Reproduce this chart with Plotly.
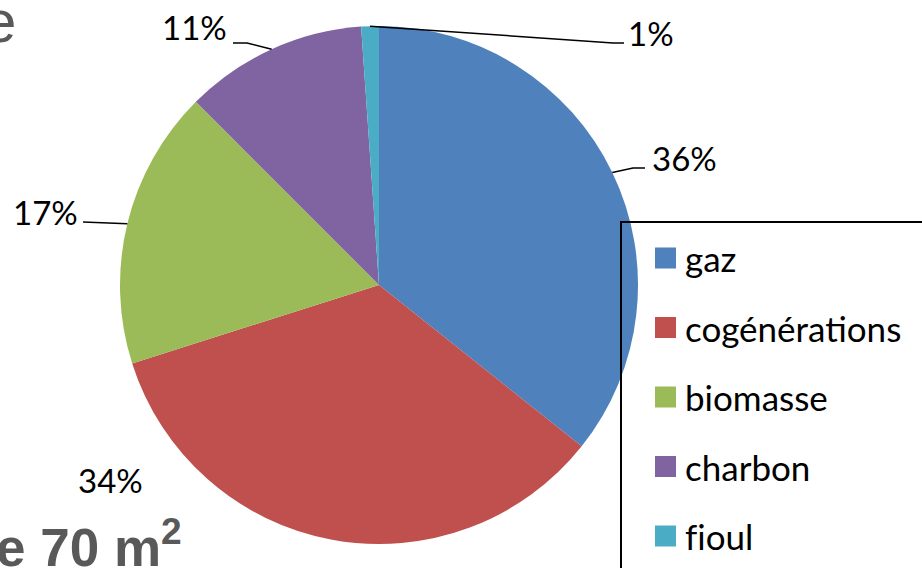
import math
import plotly.graph_objects as go

# ---- data ----
categories = ["gaz", "cogénérations", "biomasse", "charbon", "fioul"]
shares = [35.7, 34.4, 17.4, 11.4, 1.1]
pct_labels = ["36%", "34%", "17%", "11%", "1%"]
colors = ["#4F81BD", "#C0504D", "#9BBB59", "#8064A2", "#4BACC6"]

# ---- layout constants (pixels) ----
W, H = 922, 568
CX, CY, R = 379, 285, 259
LABEL_FONT = "Lato"
PCT_SIZE = 33
LEG_SIZE = 35

# text anchor (x, y, xanchor) and leader line points after the pie edge
label_place = [
    (650, 158, "left", [(633, 168), (645, 168)]),
    (145, 480, "right", None),
    (80, 212, "right", [(83, 222)]),
    (229, 27, "right", [(247, 43), (233, 43)]),
    (626, 33, "left", [(613, 43), (624, 43)]),
]


def px(x):
    return x / W


def py(y):
    return 1 - y / H


fig = go.Figure(
    go.Pie(
        labels=categories,
        values=shares,
        marker=dict(colors=colors, line=dict(width=0)),
        sort=False,
        direction="clockwise",
        rotation=0,
        textinfo="none",
        hoverinfo="label+percent",
        showlegend=False,
        domain=dict(x=[px(CX - R), px(CX + R)], y=[py(CY + R), py(CY - R)]),
    )
)

annotations = []
shapes = []
total = sum(shares)
cum = 0.0
for i, v in enumerate(shares):
    mid = (cum + v / 2) / total * 2 * math.pi
    cum += v
    x_txt, y_txt, xa, pts = label_place[i]
    annotations.append(dict(
        x=px(x_txt), y=py(y_txt), xref="paper", yref="paper",
        text=pct_labels[i], showarrow=False, xanchor=xa, yanchor="middle",
        font=dict(family=LABEL_FONT, size=PCT_SIZE, color="#000000"),
    ))
    if pts:
        ex = CX + R * math.sin(mid)
        ey = CY - R * math.cos(mid)
        path = "M {} {}".format(px(ex), py(ey))
        for (qx, qy) in pts:
            path += " L {} {}".format(px(qx), py(qy))
        shapes.append(dict(type="path", path=path, xref="paper", yref="paper",
                           line=dict(color="#000000", width=1.5)))

# manual legend
LEG_X0, LEG_Y0 = 621, 222
shapes.append(dict(type="rect", xref="paper", yref="paper",
                   x0=px(LEG_X0), y0=py(LEG_Y0), x1=px(W + 10), y1=py(H + 10),
                   line=dict(color="#000000", width=2), fillcolor="rgba(0,0,0,0)"))
for i, (cat, col) in enumerate(zip(categories, colors)):
    yc = 258 + 69.5 * i
    shapes.append(dict(type="rect", xref="paper", yref="paper",
                       x0=px(655), x1=px(676), y0=py(yc - 10.5), y1=py(yc + 10.5),
                       line=dict(width=0), fillcolor=col))
    annotations.append(dict(
        x=px(683), y=py(yc), xref="paper", yref="paper",
        text=cat.replace("fi", "f\u200ci"),
        showarrow=False, xanchor="left", yanchor="middle",
        font=dict(family=LABEL_FONT, size=LEG_SIZE, color="#000000"),
    ))

# title fragments (cropped by the frame)
annotations.append(dict(
    x=px(18), y=py(22), xref="paper", yref="paper", text="e", showarrow=False,
    xanchor="right", yanchor="middle",
    font=dict(family="Liberation Sans", size=60, color="#595959"),
))
annotations.append(dict(
    x=px(-6), y=py(543), xref="paper", yref="paper", text="<b>e 70 m<sup>2</sup></b>",
    showarrow=False, xanchor="left", yanchor="middle",
    font=dict(family="Liberation Sans", size=53, color="#595959"),
))

fig.update_layout(
    width=W, height=H,
    margin=dict(l=0, r=0, t=0, b=0),
    paper_bgcolor="#FFFFFF", plot_bgcolor="#FFFFFF",
    annotations=annotations, shapes=shapes,
)

fig.write_html("out.html", config={"displayModeBar": False},
               post_script="document.body.style.margin='0px';")
